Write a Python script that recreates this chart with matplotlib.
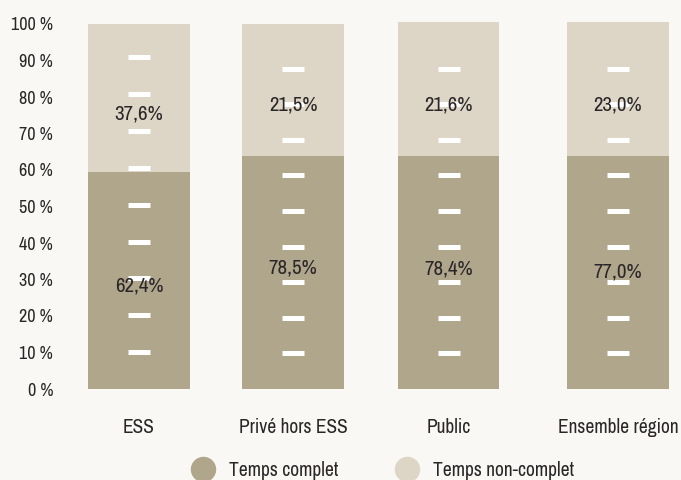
""" Temps complet / non-complet par secteur, barres empilées avec repères blancs. """

import matplotlib.pyplot as plt
from matplotlib.lines import Line2D
import numpy as np

plt.rcParams['font.family'] = ['Archivo Narrow', 'DejaVu Sans']

# Categories and values
categories = ['ESS', 'Privé hors ESS', 'Public', 'Ensemble région']
# bar heights as drawn in the picture (percent of axis)
complet_height = [59.5, 63.8, 63.8, 63.8]
total_height = [100.0, 100.0, 100.5, 100.5]
# printed values
complet_labels = ['62,4%', '78,5%', '78,4%', '77,0%']
noncomplet_labels = ['37,6%', '21,5%', '21,6%', '23,0%']
y_ticks = [0, 10, 20, 30, 40, 50, 60, 70, 80, 90, 100]

# Colours
bg_color = '#f9f8f4'
dark_color = '#b0a68c'
light_color = '#ddd5c6'
text_color = '#2a2627'

# bar centres (the last gap is a bit wider in the original)
bar_x = np.array([0, 1, 2.01, 3.11])
bar_width = 0.66
# spacing of the white marks inside each bar
mark_step = [10.1, 9.75, 9.75, 9.75]
# where the value labels sit (axis units)
lower_label_y = [28.2, 33.2, 32.9, 32.0]
upper_label_y = [75.3, 77.8, 77.8, 77.8]

fig = plt.figure(figsize=(6.81, 4.80), dpi=100, facecolor=bg_color)
ax = fig.add_axes([60 / 681, 91 / 480, 621 / 681, 369 / 480])
ax.set_facecolor(bg_color)

noncomplet_height = np.array(total_height) - np.array(complet_height)

ax.bar(bar_x, complet_height, width=bar_width, color=dark_color, zorder=2)
ax.bar(bar_x, noncomplet_height, width=bar_width, bottom=complet_height,
       color=light_color, zorder=2)

# White marks
for x, step in zip(bar_x, mark_step):
    marks = step * np.arange(1, 10)
    ax.scatter(np.full(len(marks), x), marks, marker='_', s=(23 * 0.72) ** 2,
               color='white', linewidths=5 * 0.72, zorder=3)

# Value labels
for x, lo, hi, ly, uy in zip(bar_x, complet_labels, noncomplet_labels,
                             lower_label_y, upper_label_y):
    ax.text(x, ly, lo, ha='center', va='center', fontsize=15,
            color=text_color, zorder=4)
    ax.text(x, uy, hi, ha='center', va='center', fontsize=15,
            color=text_color, zorder=4)

ax.set_xlim(-79 / 154, 542 / 154)
ax.set_ylim(0, 369 / 3.65)
ax.set_yticks(y_ticks)
ax.set_yticklabels([f'{v} %' for v in y_ticks])
ax.set_xticks(bar_x)
ax.set_xticklabels(categories)
ax.tick_params(axis='y', length=0, pad=5, labelsize=13, labelcolor=text_color)
ax.tick_params(axis='x', length=0, pad=21, labelsize=14, labelcolor=text_color)
for s in ax.spines.values():
    s.set_visible(False)

# Legend
handles = [Line2D([], [], ls='', marker='o', markersize=17.3, color=dark_color),
           Line2D([], [], ls='', marker='o', markersize=17.3, color=light_color)]
fig.legend(handles, ['Temps complet', 'Temps non-complet'], loc='center left',
           bbox_to_anchor=(173.5 / 681, 1 - 470 / 480), ncol=2, frameon=False,
           fontsize=14, handlelength=1.2, handletextpad=0.75, columnspacing=2.95,
           labelcolor=text_color)

fig.savefig('out.png', dpi=100, facecolor=bg_color)
